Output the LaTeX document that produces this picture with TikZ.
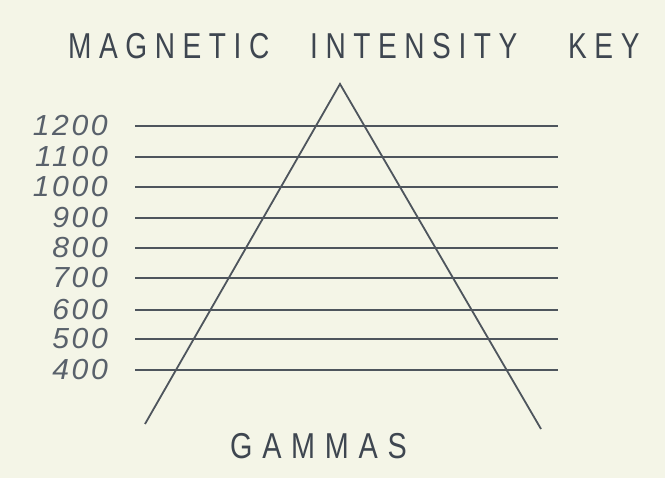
\documentclass[tikz,border=0pt]{standalone}
\usepackage{fontspec}
\newfontfamily\lettering[FakeStretch=0.78,LetterSpace=21]{Liberation Sans}
\newfontfamily\letteringwide[FakeStretch=0.8,LetterSpace=27]{Liberation Sans}
\newfontfamily\numfont[LetterSpace=9,FakeStretch=1.04]{Liberation Sans Italic}
\definecolor{paper}{HTML}{F4F5E7}
\definecolor{ink}{HTML}{3E4650}
\definecolor{numink}{HTML}{59616B}
\definecolor{lineink}{HTML}{4E555D}
\tikzset{
  titleword/.style={anchor=base west, inner sep=0pt, text=ink, font=\lettering\fontsize{36}{36}\selectfont},
  unitword/.style={anchor=base west, inner sep=0pt, text=ink, font=\letteringwide\fontsize{36}{36}\selectfont},
  valuelabel/.style={anchor=base east, inner sep=0pt, text=numink, font=\numfont\fontsize{29}{29}\selectfont},
  levelline/.style={draw=lineink, line width=1.3pt},
  trianglestroke/.style={draw=lineink, line width=1.8pt, line join=miter}
}
\begin{document}
\begin{tikzpicture}[x=1pt,y=-1pt]
\fill[paper] (0,0) rectangle (665,478);
\useasboundingbox (0,0) rectangle (665,478);
\node[titleword] (t1) at (68,59) {MAGNETIC};
\node[titleword] (t2) at (310,59) {INTENSITY};
\node[titleword] (t3) at (568,59) {KEY};
\foreach \v/\y in {1200/126,1100/157,1000/187,900/218,800/248,700/278,600/310,500/339,400/370}{
  \coordinate (l\v) at (135,\y);
  \coordinate (r\v) at (558,\y);
  \draw[levelline] (l\v) -- (r\v);
  \node[valuelabel] (n\v) at (108,\y+10) {\v};
}
\coordinate (apex) at (340,84);
\coordinate (baseL) at (145,424);
\coordinate (baseR) at (541,429);
\draw[trianglestroke] (baseL) -- (apex) -- (baseR);
\node[unitword] (g) at (230,459) {GAMMAS};
\end{tikzpicture}
\end{document}
